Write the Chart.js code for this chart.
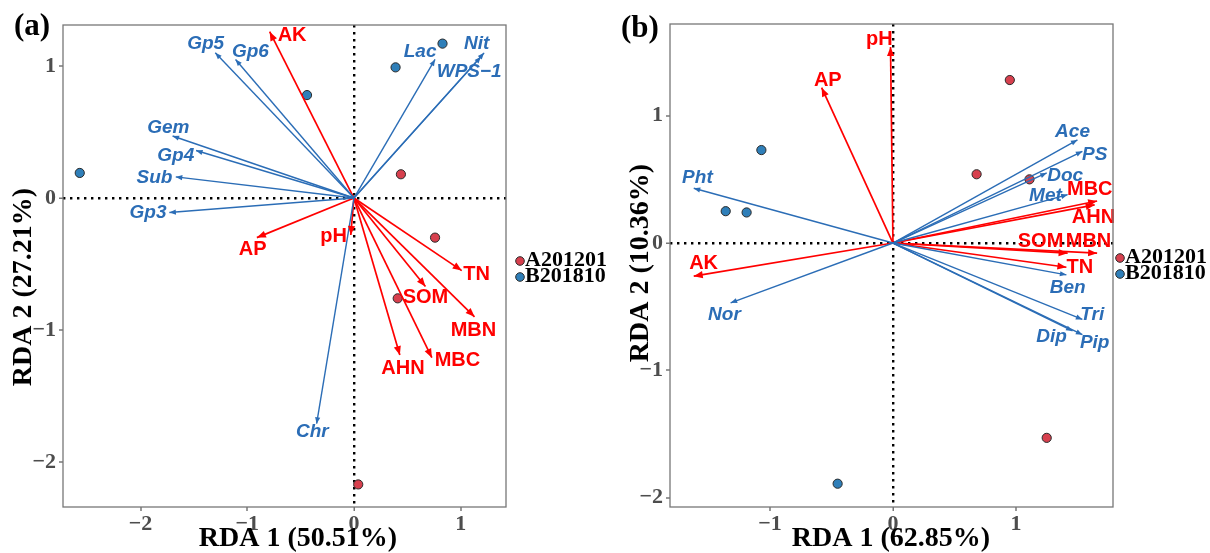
<!DOCTYPE html>
<html>
<head>
<meta charset="utf-8">
<script src="https://cdn.jsdelivr.net/npm/chart.js@4.4.1/dist/chart.umd.min.js"></script>
<style>
  html, body { margin: 0; padding: 0; background: #fff; }
  #wrap { position: relative; width: 1210px; height: 553px; overflow: hidden; }
  canvas { position: absolute; top: 0; }
  #ca { left: 0; }
  #cb { left: 600px; }
</style>
</head>
<body>
<div id="wrap">
  <canvas id="ca" width="620" height="553"></canvas>
  <canvas id="cb" width="610" height="553"></canvas>
</div>
<script>
// ---------- data : panel (a) ----------
const legendNames = ['A201201', 'B201810'];

const aSampleAX = [0.44, 0.76, 0.41, 0.04];
const aSampleAY = [0.18, -0.30, -0.76, -2.17];
const aSampleBX = [-2.57, -0.44, 0.39, 0.83];
const aSampleBY = [0.19, 0.78, 0.99, 1.17];

const aEnvNames = ['AK', 'AP', 'pH', 'TN', 'SOM', 'MBN', 'MBC', 'AHN'];
const aEnvX = [-0.79, -0.91, -0.03, 1.01, 0.67, 1.13, 0.73, 0.43];
const aEnvY = [1.26, -0.30, -0.28, -0.55, -0.67, -0.90, -1.21, -1.19];
const aEnvLabX = [-0.58, -0.95, -0.19, 1.15, 0.67, 1.12, 0.97, 0.46];
const aEnvLabY = [1.23, -0.39, -0.29, -0.58, -0.75, -1.00, -1.23, -1.29];

const aSpNames = ['Gp5', 'Gp6', 'Gem', 'Gp4', 'Sub', 'Gp3', 'Lac', 'Nit', 'WPS\u22121', 'Chr'];
const aSpX = [-1.30, -1.11, -1.70, -1.48, -1.67, -1.73, 0.76, 1.22, 1.19, -0.35];
const aSpY = [1.10, 1.05, 0.47, 0.36, 0.16, -0.11, 1.05, 1.10, 1.07, -1.71];
const aSpLabX = [-1.39, -0.97, -1.74, -1.67, -1.87, -1.93, 0.62, 1.15, 1.08, -0.39];
const aSpLabY = [1.17, 1.11, 0.53, 0.32, 0.15, -0.11, 1.11, 1.17, 0.96, -1.77];

const aXTicks = [-2, -1, 0, 1];
const aYTicks = [-2, -1, 0, 1];

// ---------- data : panel (b) ----------
const bSampleAX = [0.95, 0.68, 1.11, 1.25];
const bSampleAY = [1.28, 0.54, 0.50, -1.53];
const bSampleBX = [-1.07, -1.36, -1.19, -0.45];
const bSampleBY = [0.73, 0.25, 0.24, -1.89];

const bEnvNames = ['pH', 'AP', 'AK', 'MBC', 'AHN', 'SOM', 'MBN', 'TN'];
const bEnvX = [-0.02, -0.58, -1.62, 1.66, 1.64, 1.42, 1.66, 1.41];
const bEnvY = [1.54, 1.22, -0.26, 0.33, 0.30, -0.08, -0.08, -0.19];
const bEnvLabX = [-0.11, -0.53, -1.54, 1.60, 1.63, 1.20, 1.59, 1.52];
const bEnvLabY = [1.60, 1.28, -0.16, 0.42, 0.20, 0.01, 0.01, -0.19];

const bSpNames = ['Ace', 'PS', 'Doc', 'Met', 'Pht', 'Nor', 'Ben', 'Tri', 'Dip', 'Pip'];
const bSpX = [1.50, 1.54, 1.25, 1.42, -1.62, -1.32, 1.41, 1.54, 1.46, 1.54];
const bSpY = [0.81, 0.72, 0.55, 0.38, 0.43, -0.47, -0.25, -0.60, -0.69, -0.72];
const bSpLabX = [1.46, 1.64, 1.40, 1.24, -1.59, -1.37, 1.42, 1.62, 1.29, 1.64];
const bSpLabY = [0.87, 0.69, 0.53, 0.37, 0.51, -0.56, -0.35, -0.56, -0.74, -0.78];

const bXTicks = [-1, 0, 1];
const bYTicks = [-2, -1, 0, 1];

// ---------- styling ----------
const SERIF = '"Liberation Serif", "Times New Roman", serif';
const SANS = '"Liberation Sans", Arial, sans-serif';
const RED = '#ff0000';
const BLUE = '#2b6db6';
const FILL_A = '#d7404e';
const FILL_B = '#2f7fb9';

const fmtTick = v => (v < 0 ? '\u2212' + Math.abs(v) : String(v));

function pointSet(xs, ys, fill) {
  return {
    data: xs.map((x, i) => ({ x: x, y: ys[i] })),
    showLine: false,
    pointRadius: 4.6,
    pointBackgroundColor: fill,
    pointBorderColor: '#2a2a2a',
    pointBorderWidth: 1,
    order: 5
  };
}

// one dataset per vector, from the origin to its tip
function vectorSets(xs, ys, color, width, head) {
  return xs.map((x, i) => ({
    data: [{ x: 0, y: 0 }, { x: x, y: ys[i] }],
    showLine: true,
    borderColor: color,
    borderWidth: width,
    pointRadius: 0,
    head: head,
    order: 1
  }));
}

function drawHead(ctx, x0, y0, x1, y1, head, color) {
  const a = Math.atan2(y1 - y0, x1 - x0);
  const len = head[0], hw = head[1];
  const bx = x1 - len * Math.cos(a), by = y1 - len * Math.sin(a);
  ctx.fillStyle = color;
  ctx.beginPath();
  ctx.moveTo(x1, y1);
  ctx.lineTo(bx + hw * Math.sin(a), by - hw * Math.cos(a));
  ctx.lineTo(bx - hw * Math.sin(a), by + hw * Math.cos(a));
  ctx.closePath();
  ctx.fill();
}

function overlay(p) {
  return {
    id: 'overlay',
    afterDatasetsDraw(chart) {
      const ctx = chart.ctx, sx = chart.scales.x, sy = chart.scales.y;
      ctx.save();
      chart.data.datasets.forEach((ds, i) => {
        if (!ds.head) return;
        const pts = chart.getDatasetMeta(i).data;
        drawHead(ctx, pts[0].x, pts[0].y, pts[1].x, pts[1].y, ds.head, ds.borderColor);
      });
      ctx.textAlign = 'center';
      ctx.textBaseline = 'middle';
      p.labels.forEach(l => {
        ctx.font = l.font;
        ctx.fillStyle = l.color;
        ctx.fillText(l.text, sx.getPixelForValue(l.x), sy.getPixelForValue(l.y));
      });
      ctx.restore();
    },
    afterDraw(chart) {
      const ctx = chart.ctx, a = chart.chartArea;
      ctx.save();
      // panel border
      ctx.strokeStyle = '#777';
      ctx.lineWidth = 1.3;
      ctx.strokeRect(a.left, a.top, a.right - a.left, a.bottom - a.top);

      // panel tag
      ctx.fillStyle = '#000';
      ctx.textBaseline = 'middle';
      ctx.textAlign = 'left';
      ctx.font = 'bold 31px ' + SERIF;
      ctx.fillText(p.tag, p.tagX, p.tagY);

      // axis titles
      ctx.textAlign = 'center';
      ctx.font = 'bold 28px ' + SERIF;
      ctx.fillText(p.xTitle, p.xTitleX, p.xTitleY);
      ctx.save();
      ctx.translate(p.yTitleX, p.yTitleY);
      ctx.rotate(-Math.PI / 2);
      ctx.fillText(p.yTitle, 0, 0);
      ctx.restore();

      // legend
      const fills = [FILL_A, FILL_B];
      ctx.font = 'bold 22px ' + SERIF;
      ctx.textAlign = 'left';
      legendNames.forEach((name, i) => {
        ctx.beginPath();
        ctx.arc(p.legX, p.legY[i] + 1, 4.3, 0, Math.PI * 2);
        ctx.fillStyle = fills[i];
        ctx.fill();
        ctx.strokeStyle = '#2a2a2a';
        ctx.lineWidth = 1;
        ctx.stroke();
        ctx.fillStyle = '#000';
        ctx.fillText(name, p.legX + 5, p.legY[i]);
      });
      ctx.restore();
    }
  };
}

function makeLabels(names, xs, ys, color, font) {
  return names.map((t, i) => ({ text: t, x: xs[i], y: ys[i], color: color, font: font }));
}

function axis(min, max, ticks, size, horizontal) {
  return {
    type: 'linear',
    min: min,
    max: max,
    afterBuildTicks: s => { s.ticks = ticks.map(v => ({ value: v })); },
    afterFit: s => { if (horizontal) s.height = size; else s.width = size; },
    ticks: {
      callback: fmtTick,
      autoSkip: false,
      maxRotation: 0,
      padding: horizontal ? 0 : 3,
      color: '#4d4d4d',
      font: { family: SERIF, size: 22, weight: 'bold' }
    },
    grid: {
      color: c => (c.tick && c.tick.value === 0 ? '#000' : 'rgba(0,0,0,0)'),
      lineWidth: c => (c.tick && c.tick.value === 0 ? 2.4 : 0),
      tickColor: '#555',
      tickWidth: 1.2,
      tickLength: 4
    },
    border: { display: false, dash: [2.4, 4.6] },
    title: { display: false }
  };
}

function makeChart(id, cfg) {
  const datasets = [].concat(
    [pointSet(cfg.sAX, cfg.sAY, FILL_A), pointSet(cfg.sBX, cfg.sBY, FILL_B)],
    vectorSets(cfg.spX, cfg.spY, BLUE, 1.4, [6.5, 2.6]),
    vectorSets(cfg.envX, cfg.envY, RED, 1.7, [9, 3.6])
  );
  return new Chart(document.getElementById(id), {
    type: 'scatter',
    data: { datasets: datasets },
    options: {
      responsive: false,
      animation: false,
      devicePixelRatio: 1,
      events: [],
      layout: { padding: cfg.padding },
      plugins: { legend: { display: false }, tooltip: { enabled: false } },
      scales: {
        x: axis(cfg.xMin, cfg.xMax, cfg.xTicks, cfg.xAxisH, true),
        y: axis(cfg.yMin, cfg.yMax, cfg.yTicks, cfg.yAxisW, false)
      }
    },
    plugins: [overlay(cfg.overlay)]
  });
}

const labelFontRed = 'bold 20px ' + SANS;
const labelFontBlue = 'italic bold 19px ' + SANS;

makeChart('ca', {
  sAX: aSampleAX, sAY: aSampleAY, sBX: aSampleBX, sBY: aSampleBY,
  spX: aSpX, spY: aSpY, envX: aEnvX, envY: aEnvY,
  xMin: -2.727, xMax: 1.425, yMin: -2.341, yMax: 1.311,
  xTicks: aXTicks, yTicks: aYTicks,
  xAxisH: 46, yAxisW: 63,
  padding: { top: 25, right: 114, bottom: 0, left: 0 },
  overlay: {
    tag: '(a)', tagX: 14, tagY: 27,
    xTitle: 'RDA 1 (50.51%)', xTitleX: 298, xTitleY: 539,
    yTitle: 'RDA 2 (27.21%)', yTitleX: 24, yTitleY: 287,
    legX: 520, legY: [260, 276],
    labels: makeLabels(aSpNames, aSpLabX, aSpLabY, BLUE, labelFontBlue)
      .concat(makeLabels(aEnvNames, aEnvLabX, aEnvLabY, RED, labelFontRed))
  }
});

makeChart('cb', {
  sAX: bSampleAX, sAY: bSampleAY, sBX: bSampleBX, sBY: bSampleBY,
  spX: bSpX, spY: bSpY, envX: bEnvX, envY: bEnvY,
  xMin: -1.813, xMax: 1.789, yMin: -2.073, yMax: 1.72,
  xTicks: bXTicks, yTicks: bYTicks,
  xAxisH: 46, yAxisW: 70,
  padding: { top: 24, right: 97, bottom: 0, left: 0 },
  overlay: {
    tag: '(b)', tagX: 21, tagY: 29,
    xTitle: 'RDA 1 (62.85%)', xTitleX: 291, xTitleY: 539,
    yTitle: 'RDA 2 (10.36%)', yTitleX: 41, yTitleY: 263,
    legX: 520, legY: [257, 273],
    labels: makeLabels(bSpNames, bSpLabX, bSpLabY, BLUE, labelFontBlue)
      .concat(makeLabels(bEnvNames, bEnvLabX, bEnvLabY, RED, labelFontRed))
  }
});
</script>
</body>
</html>
